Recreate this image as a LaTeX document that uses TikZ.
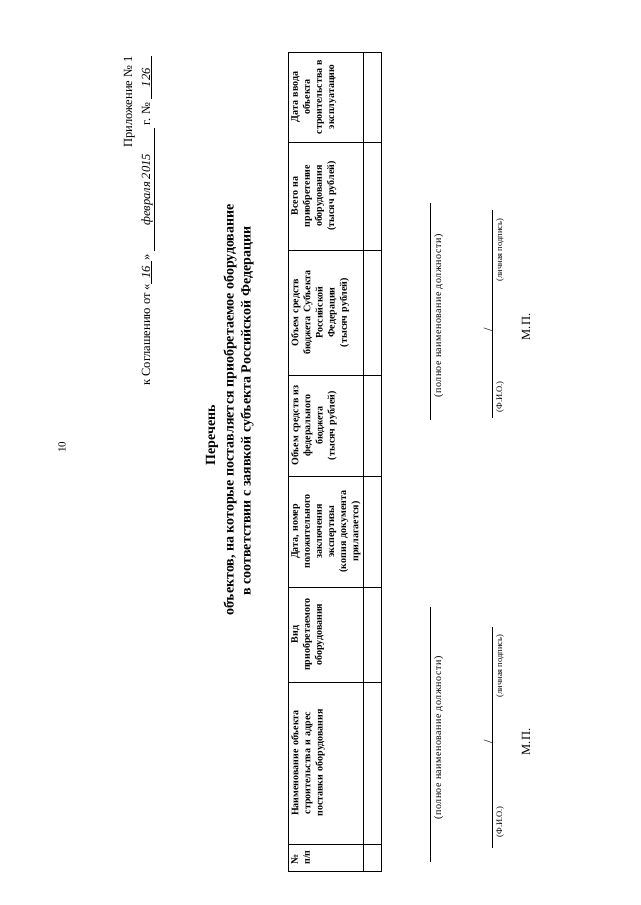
\documentclass[tikz,border=0pt]{standalone}
\usepackage{fontspec}
\setmainfont{Liberation Serif}
\newfontfamily\spacedfont[LetterSpace=5]{Liberation Serif}
\newcommand{\hw}[2]{\underline{\makebox[#2]{\itshape #1}}}
\begin{document}
\begin{tikzpicture}[
        x=1pt, y=-1pt,
        every node/.style={rotate=90, inner sep=0pt},
        headcell/.style={font=\fontsize{10}{12.1}\selectfont\bfseries, align=center, anchor=north},
        caption/.style={font=\fontsize{8.5}{10}\selectfont, anchor=north},
        poscaption/.style={font=\spacedfont\fontsize{10}{11}\selectfont, anchor=north},
        stamp/.style={font=\fontsize{12.5}{14}\selectfont},
        titleline/.style={font=\fontsize{14}{16}\selectfont\bfseries},
    ]
    \fill[white] (0,0) rectangle (640,905);
    \useasboundingbox (0,0) rectangle (640,905);

    % Page number
    \node[font=\fontsize{11}{13}\selectfont] (pnum) at (62,447) {10};

    % Annex heading
    \node[stamp, anchor=base east] (annex) at (132,56) {Приложение № 1};
    \node[stamp, anchor=base east] (agree) at (150,56) {к Соглашению от «\hw{16}{23pt}» \hw{февраля 2015}{123pt} г. № \hw{126}{43pt}};

    % Title
    \node[titleline] (ttl) at (212,435) {Перечень};
    \node[titleline] (ttlobj) at (230,410) {объектов, на которые поставляется приобретаемое оборудование};
    \node[titleline] (ttlreq) at (247,411) {в соответствии с заявкой субъекта Российской Федерации};

    % Table
    \draw[line width=0.9pt] (288,52) rectangle (381,871);
    \draw[line width=0.6pt] (363,52) -- (363,871);
    \foreach \y in {142,250,375,476,587,682,844}
        \draw[line width=0.6pt] (288,\y) -- (381,\y);

    % Column heads
    \node[headcell, align=left] (hnum) at (291,857.5) {№\\п/п};
    \node[headcell, text width=150pt] (hname) at (291,763) {Наименование объекта\\строительства и адрес\\поставки оборудования};
    \node[headcell, text width=88pt] (hkind) at (291,634.5) {Вид\\приобретаемого\\оборудования};
    \node[headcell, text width=104pt] (hexp) at (291,531.5) {Дата, номер\\положительного\\заключения\\экспертизы\\(копия документа\\прилагается)};
    \node[headcell, text width=94pt] (hfed) at (291,425.5) {Объем средств из\\федерального\\бюджета\\(тысяч рублей)};
    \node[headcell, text width=118pt] (hreg) at (291,312.5) {Объем средств\\бюджета Субъекта\\Российской\\Федерации\\(тысяч рублей)};
    \node[headcell, text width=100pt] (htot) at (291,196) {Всего на\\приобретение\\оборудования\\(тысяч рублей)};
    \node[headcell, text width=84pt] (hdate) at (291,97) {Дата ввода\\объекта\\строительства в\\эксплуатацию};

    % Signature, right
    \draw[line width=0.7pt] (430,203) -- (430,420);
    \node[poscaption] (posR) at (434,316) {(полное наименование должности)};
    \draw[line width=0.7pt] (492,210) -- (492,418);
    \node[stamp, anchor=base] (slashR) at (492,330) {/};
    \node[caption] (fioR) at (496,397) {(Ф.И.О.)};
    \node[caption] (signR) at (496,250) {(личная подпись)};
    \node[stamp] (mpR) at (526,327) {М.П.};

    % Signature, left
    \draw[line width=0.7pt] (430,607) -- (430,862);
    \node[poscaption] (posL) at (434,738) {(полное наименование должности)};
    \draw[line width=0.7pt] (492,627) -- (492,848);
    \node[stamp, anchor=base] (slashL) at (492,742) {/};
    \node[caption] (fioL) at (496,822) {(Ф.И.О.)};
    \node[caption] (signL) at (496,666) {(личная подпись)};
    \node[stamp] (mpL) at (526,742) {М.П.};
\end{tikzpicture}
\end{document}
